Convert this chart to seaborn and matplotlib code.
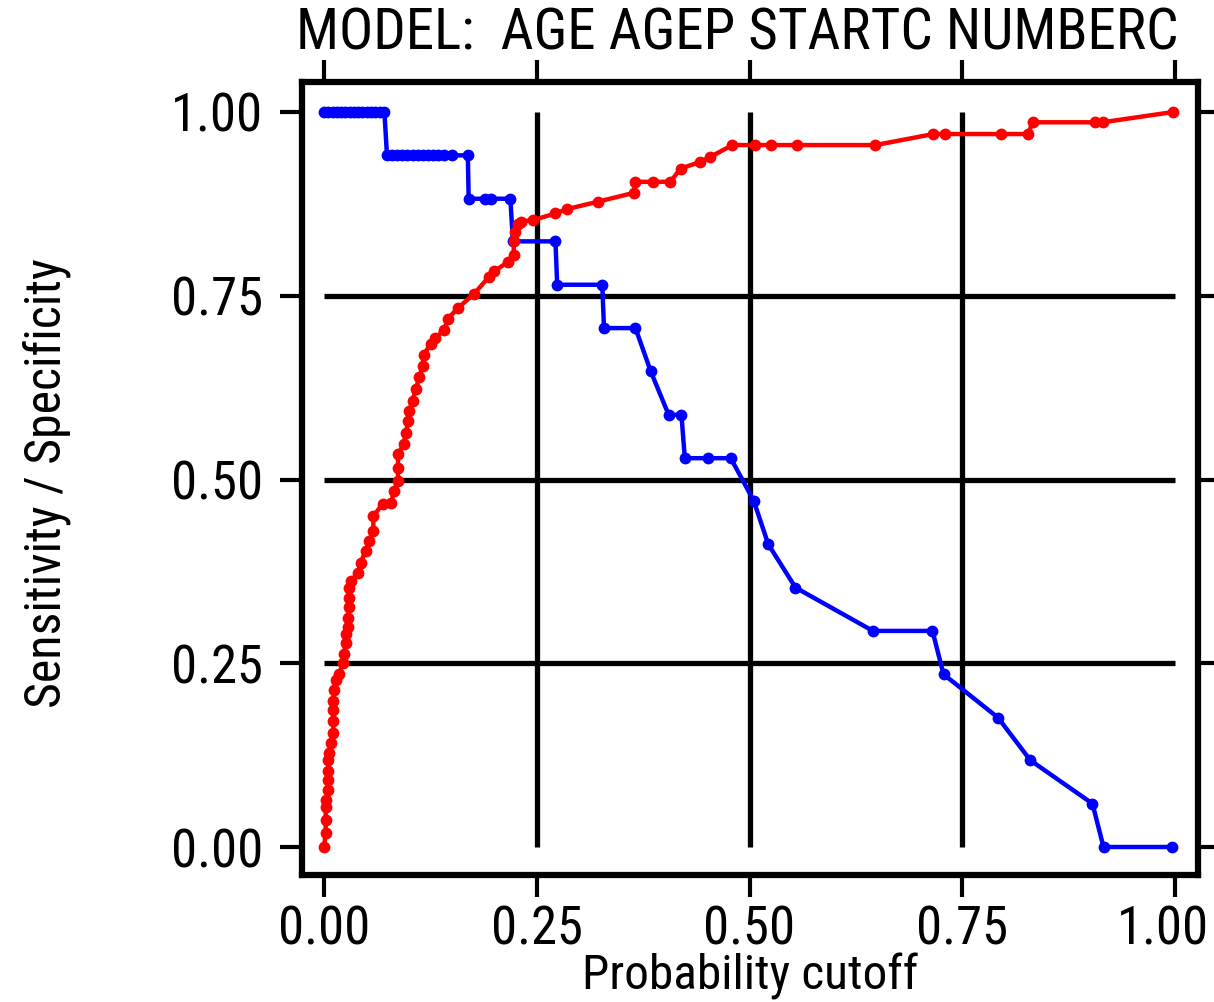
import matplotlib
matplotlib.use("Agg")
import matplotlib.pyplot as plt
from matplotlib import font_manager as fm
from matplotlib.transforms import ScaledTranslation
import seaborn as sns
import pandas as pd

# Probability cutoffs and specificity (red)
spec_cutoff = [0.000, 0.002, 0.002, 0.002, 0.002, 0.005, 0.005, 0.005, 0.005, 0.006,
               0.008, 0.011, 0.011, 0.011, 0.011, 0.012, 0.014, 0.018, 0.022, 0.023,
               0.026, 0.026, 0.028, 0.028, 0.029, 0.029, 0.029, 0.032, 0.040, 0.043,
               0.049, 0.053, 0.058, 0.058, 0.069, 0.079, 0.082, 0.087, 0.087, 0.087,
               0.094, 0.096, 0.099, 0.100, 0.104, 0.108, 0.112, 0.116, 0.117, 0.126,
               0.131, 0.141, 0.146, 0.157, 0.176, 0.194, 0.200, 0.216, 0.223, 0.223,
               0.225, 0.228, 0.231, 0.246, 0.272, 0.286, 0.322, 0.364, 0.366, 0.387,
               0.407, 0.419, 0.442, 0.454, 0.480, 0.507, 0.525, 0.556, 0.648, 0.716,
               0.730, 0.795, 0.827, 0.833, 0.906, 0.915, 0.998]
specificity = [0.000, 0.019, 0.037, 0.054, 0.064, 0.077, 0.091, 0.104, 0.118, 0.128,
               0.141, 0.155, 0.172, 0.186, 0.199, 0.213, 0.227, 0.236, 0.250, 0.263,
               0.277, 0.290, 0.299, 0.312, 0.326, 0.339, 0.353, 0.362, 0.373, 0.387,
               0.403, 0.417, 0.430, 0.450, 0.467, 0.468, 0.484, 0.498, 0.516, 0.535,
               0.548, 0.563, 0.579, 0.593, 0.607, 0.623, 0.640, 0.654, 0.670, 0.685,
               0.692, 0.704, 0.719, 0.733, 0.752, 0.776, 0.783, 0.796, 0.806, 0.824,
               0.837, 0.847, 0.851, 0.853, 0.862, 0.868, 0.878, 0.890, 0.905, 0.905,
               0.905, 0.923, 0.932, 0.939, 0.955, 0.955, 0.955, 0.955, 0.955, 0.970,
               0.970, 0.970, 0.970, 0.986, 0.986, 0.986, 1.000]

# Probability cutoffs and sensitivity (blue)
sens_cutoff = [0.000, 0.005, 0.010, 0.015, 0.020, 0.025, 0.030, 0.035, 0.040, 0.045,
               0.050, 0.055, 0.060, 0.066, 0.071,
               0.074, 0.080, 0.086, 0.092, 0.098, 0.104, 0.110, 0.116, 0.122, 0.128,
               0.134, 0.141, 0.150, 0.169,
               0.170, 0.189, 0.196, 0.219,
               0.222, 0.272, 0.274, 0.327, 0.329, 0.366, 0.384, 0.405, 0.420,
               0.424, 0.451, 0.478, 0.505, 0.522, 0.554, 0.645, 0.715, 0.728,
               0.792, 0.830, 0.903, 0.916, 0.997]
sensitivity = [1.000, 1.000, 1.000, 1.000, 1.000, 1.000, 1.000, 1.000, 1.000, 1.000,
               1.000, 1.000, 1.000, 1.000, 1.000,
               0.941, 0.941, 0.941, 0.941, 0.941, 0.941, 0.941, 0.941, 0.941, 0.941,
               0.941, 0.941, 0.941, 0.941,
               0.882, 0.882, 0.882, 0.882,
               0.824, 0.824, 0.765, 0.765, 0.706, 0.706, 0.647, 0.588, 0.588,
               0.529, 0.529, 0.529, 0.471, 0.412, 0.353, 0.294, 0.294, 0.235,
               0.176, 0.118, 0.059, 0.000, 0.000]

tick_values = [0.0, 0.25, 0.5, 0.75, 1.0]
tick_labels = ["0.00", "0.25", "0.50", "0.75", "1.00"]
title_text = "MODEL:  AGE AGEP STARTC NUMBERC"
x_title = "Probability cutoff"
y_title = "Sensitivity / Specificity"


def pick_narrow_font():
    """Return (family, stretch, is_narrow) for a narrow sans face if one is installed."""
    entries = fm.fontManager.ttflist
    names = {f.name for f in entries}
    for fam in ["Liberation Sans Narrow", "Arial Narrow", "Roboto Condensed",
                "Open Sans Condensed", "Noto Sans Condensed", "DejaVu Sans Condensed"]:
        if fam in names:
            return fam, "normal", True
    for f in entries:
        if (f.stretch in ("condensed", "semi-condensed") and f.style == "normal"
                and f.weight in (400, "normal", "regular")
                and any(k in f.name for k in ("Sans", "Roboto", "Lato", "Inter"))):
            return f.name, f.stretch, True
    return "Liberation Sans", "normal", False


sns.set_theme(style="white")
family, stretch, narrow = pick_narrow_font()
plt.rcParams["font.family"] = [family, "Liberation Sans", "DejaVu Sans"]
plt.rcParams["font.stretch"] = stretch

if narrow:
    tick_fs, title_fs, xlab_fs, ylab_fs = 38, 41, 35.5, 36
else:
    tick_fs, title_fs, xlab_fs, ylab_fs = 32.5, 33, 33, 32.5

W, H = 1214, 1002
fig = plt.figure(figsize=(W / 100, H / 100), dpi=100)
fig.patch.set_facecolor("white")
left, right, top, bottom = 302, 1198, 82, 875
ax = fig.add_axes([left / W, 1 - bottom / H, (right - left) / W, (bottom - top) / H])
ax.set_facecolor("white")

# reference grid inside the unit square
ax.hlines([0.25, 0.5, 0.75], 0, 1, color="black", lw=3.8, zorder=1)
ax.vlines([0.25, 0.5, 0.75], 0, 1, color="black", lw=3.8, zorder=1)

sens_df = pd.DataFrame({"cutoff": sens_cutoff, "value": sensitivity})
spec_df = pd.DataFrame({"cutoff": spec_cutoff, "value": specificity})
sns.lineplot(data=sens_df, x="cutoff", y="value", sort=False, estimator=None,
             color="#0000ff", marker="o", markersize=8.5, markeredgewidth=0,
             linewidth=3.2, ax=ax, zorder=3)
sns.lineplot(data=spec_df, x="cutoff", y="value", sort=False, estimator=None,
             color="#ff0000", marker="o", markersize=8.5, markeredgewidth=0,
             linewidth=3.2, ax=ax, zorder=4)

ax.set_xlim((left - 324) / 851, (right - 324) / 851)
ax.set_ylim((847 - bottom) / 735, (847 - top) / 735)
ax.set_xticks(tick_values)
ax.set_xticklabels(tick_labels)
ax.set_yticks(tick_values)
ax.set_yticklabels(tick_labels)
ax.set_xlabel("")
ax.set_ylabel("")
ax.grid(False)

for s in ax.spines.values():
    s.set_visible(True)
    s.set_color("black")
    s.set_linewidth(4.5)

ax.tick_params(axis="both", which="major", direction="out", length=16, width=3,
               color="black", labelsize=tick_fs, labelcolor="black",
               top=True, right=True, bottom=True, left=True,
               labeltop=False, labelright=False)
ax.tick_params(axis="x", pad=5)
ax.tick_params(axis="y", pad=12)

# keep the last x tick label inside the figure edge
last = ax.get_xticklabels()[-1]
last.set_transform(last.get_transform() + ScaledTranslation(-12 / 100, 0, fig.dpi_scale_trans))

fig.text(737 / W, 1 - 50 / H, title_text, ha="center", va="baseline",
         fontsize=title_fs, color="black")
fig.text(750 / W, 1 - 990 / H, x_title, ha="center", va="baseline",
         fontsize=xlab_fs, color="black")
fig.text(47 / W, 1 - 483 / H, y_title, ha="center", va="center", rotation=90,
         fontsize=ylab_fs, color="black")

fig.savefig("out.png", dpi=100, facecolor="white")
